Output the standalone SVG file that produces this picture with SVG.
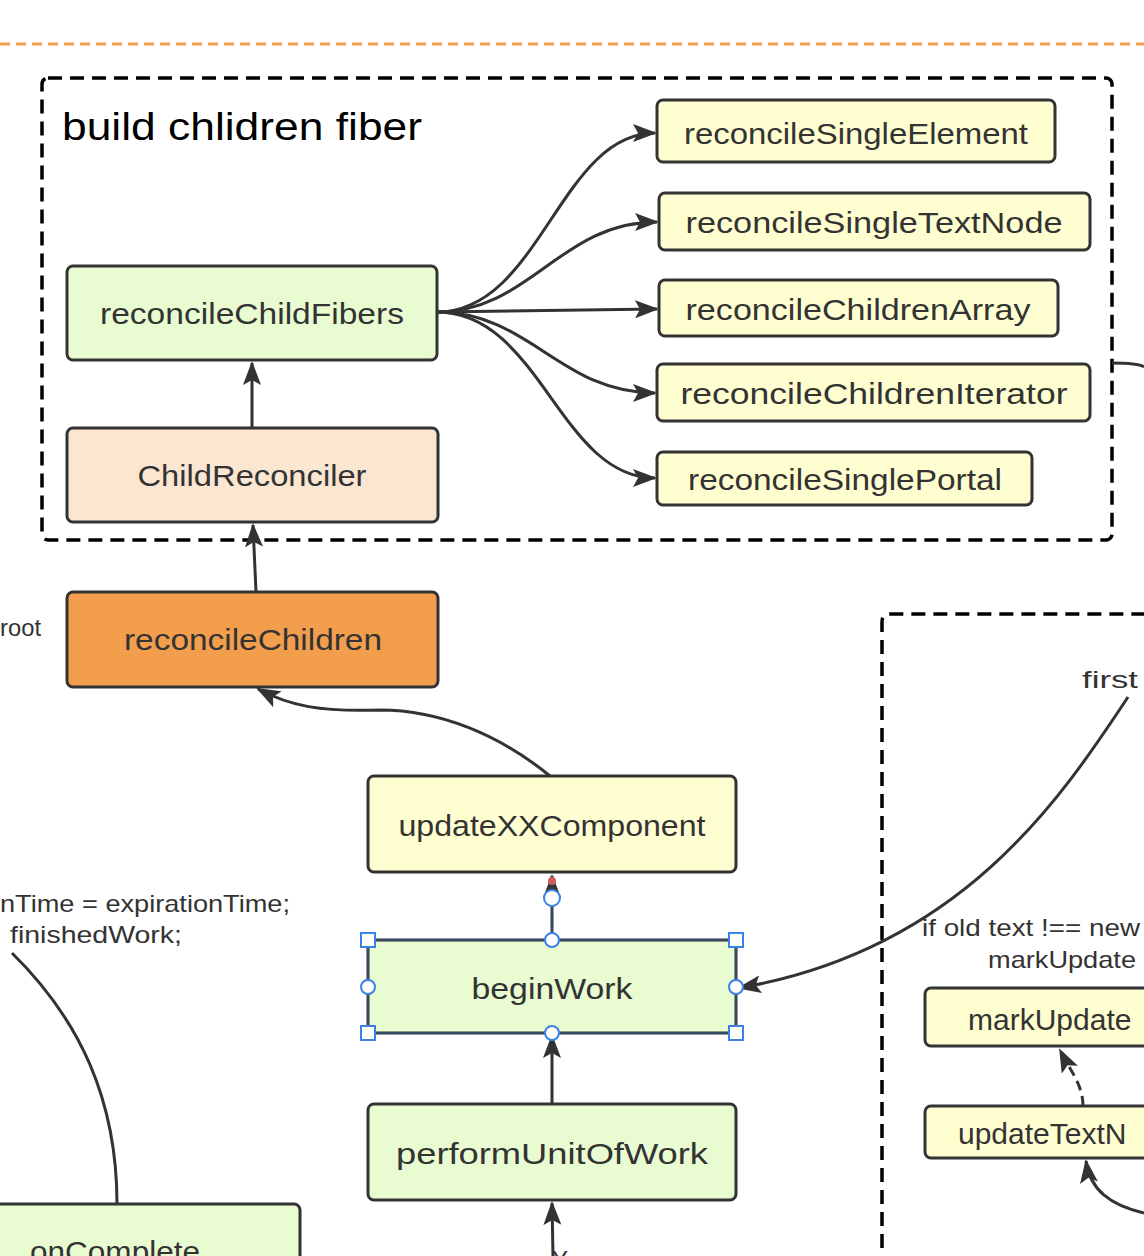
<svg xmlns="http://www.w3.org/2000/svg" width="1144" height="1256" viewBox="0 0 1144 1256">
<defs>
<style>
.box{stroke:#333;stroke-width:3}
.g{fill:#E9FBD1}.y{fill:#FFFED1}.p{fill:#FBE6D1}.o{fill:#F29E4C}
.t{font-family:"Liberation Sans","DejaVu Sans",sans-serif;font-size:30px;fill:#333;text-anchor:middle}
.s{font-family:"Liberation Sans","DejaVu Sans",sans-serif;font-size:24px;fill:#333}
.c{fill:none;stroke:#333;stroke-width:3}
.dash{fill:none;stroke:#000;stroke-width:3.5;stroke-dasharray:14 8}
.h{fill:#fff;stroke:#3C82E6;stroke-width:2}
</style>
<marker id="a" markerUnits="userSpaceOnUse" markerWidth="24" markerHeight="18" refX="22" refY="9" orient="auto">
<path d="M0,0 L24,9 L0,18 L5,9 Z" fill="#333"/>
</marker>
</defs>
<rect width="1144" height="1256" fill="#fff"/>
<line x1="0" y1="44" x2="1144" y2="44" stroke="#F2A04A" stroke-width="3" stroke-dasharray="10 6"/>
<rect x="42" y="78" width="1070" height="462" rx="6" class="dash"/>
<path d="M882,1270 L882,622 Q882,614 890,614 L1150,614" class="dash"/>
<text x="62" y="140" font-family="Liberation Sans, sans-serif" font-size="38" fill="#000" textLength="360" lengthAdjust="spacingAndGlyphs">build chlidren fiber</text>
<text class="s" x="0" y="636" textLength="41" lengthAdjust="spacingAndGlyphs">root</text>
<text class="s" x="0" y="912" textLength="290" lengthAdjust="spacingAndGlyphs">nTime = expirationTime;</text>
<text class="s" x="10" y="943" textLength="172" lengthAdjust="spacingAndGlyphs">finishedWork;</text>
<text class="s" x="1082" y="688" textLength="56" lengthAdjust="spacingAndGlyphs">first</text>
<text class="s" x="922" y="936" textLength="218" lengthAdjust="spacingAndGlyphs">if old text !== new</text>
<text class="s" x="988" y="968" textLength="148" lengthAdjust="spacingAndGlyphs">markUpdate</text>
<g id="connectors">
<path class="c" d="M437,312 C540,312 560,133 655,133" marker-end="url(#a)"/>
<path class="c" d="M437,312 C530,312 560,222 657,222" marker-end="url(#a)"/>
<path class="c" d="M437,312 L657,309" marker-end="url(#a)"/>
<path class="c" d="M437,312 C530,312 560,393 655,393" marker-end="url(#a)"/>
<path class="c" d="M437,312 C540,312 560,478 655,478" marker-end="url(#a)"/>
<path class="c" d="M252,428 L252,363" marker-end="url(#a)"/>
<path class="c" d="M256,592 L253,525" marker-end="url(#a)"/>
<path class="c" d="M550,776 C500,735 440,710 380,710 C320,712 290,706 258,689" marker-end="url(#a)"/>
<path class="c" d="M552,1104 L552,1036" marker-end="url(#a)"/>
<path class="c" d="M553,1256 L552,1203" marker-end="url(#a)"/>
<path class="c" d="M1128,697 C1060,800 960,950 739,988" marker-end="url(#a)"/>
<path class="c" d="M12,953 C80,1020 117,1100 117,1204"/>
<path class="c" d="M1112,363 C1128,363 1140,364 1144,367"/>
<path class="c" stroke-dasharray="10 6" d="M1083,1106 C1083,1085 1070,1070 1060,1050" marker-end="url(#a)"/>
<path class="c" d="M1144,1213 C1110,1205 1090,1190 1086,1161" marker-end="url(#a)"/>
<path class="c" d="M552,940 L552,876" marker-end="url(#a)"/>
<line x1="552" y1="940" x2="552" y2="900" stroke="#3C82E6" stroke-width="1" opacity="0.6"/>
<circle cx="552" cy="898" r="8" class="h"/>
<circle cx="552" cy="881" r="4" fill="#D05A5A"/>
</g>
<g id="n-rse"><rect class="box y" x="657" y="100" width="398" height="62" rx="6"/><text class="t" x="856" y="144" textLength="344" lengthAdjust="spacingAndGlyphs">reconcileSingleElement</text></g>
<g id="n-rst"><rect class="box y" x="659" y="193" width="431" height="57" rx="6"/><text class="t" x="874" y="233" textLength="377" lengthAdjust="spacingAndGlyphs">reconcileSingleTextNode</text></g>
<g id="n-rca"><rect class="box y" x="659" y="280" width="399" height="56" rx="6"/><text class="t" x="858" y="320" textLength="345" lengthAdjust="spacingAndGlyphs">reconcileChildrenArray</text></g>
<g id="n-rci"><rect class="box y" x="657" y="364" width="433" height="57" rx="6"/><text class="t" x="874" y="404" textLength="387" lengthAdjust="spacingAndGlyphs">reconcileChildrenIterator</text></g>
<g id="n-rsp"><rect class="box y" x="657" y="452" width="375" height="53" rx="6"/><text class="t" x="845" y="490" textLength="314" lengthAdjust="spacingAndGlyphs">reconcileSinglePortal</text></g>
<g id="n-rcf"><rect class="box g" x="67" y="266" width="370" height="94" rx="6"/><text class="t" x="252" y="324" textLength="304" lengthAdjust="spacingAndGlyphs">reconcileChildFibers</text></g>
<g id="n-cr"><rect class="box p" x="67" y="428" width="371" height="94" rx="6"/><text class="t" x="252" y="486" textLength="229" lengthAdjust="spacingAndGlyphs">ChildReconciler</text></g>
<g id="n-rc"><rect class="box o" x="67" y="592" width="371" height="95" rx="6"/><text class="t" x="253" y="650" textLength="258" lengthAdjust="spacingAndGlyphs">reconcileChildren</text></g>
<g id="n-uxx"><rect class="box y" x="368" y="776" width="368" height="96" rx="6"/><text class="t" x="552" y="836" textLength="307" lengthAdjust="spacingAndGlyphs">updateXXComponent</text></g>
<g id="n-bw"><rect class="box g" x="368" y="940" width="368" height="93"/><rect x="368" y="940" width="368" height="93" fill="none" stroke="#3C82E6" stroke-width="1" opacity="0.6"/><text class="t" x="552" y="999" textLength="161" lengthAdjust="spacingAndGlyphs">beginWork</text>
<rect class="h" x="361" y="933" width="14" height="14"/><rect class="h" x="729" y="933" width="14" height="14"/><rect class="h" x="361" y="1026" width="14" height="14"/><rect class="h" x="729" y="1026" width="14" height="14"/>
<circle class="h" cx="552" cy="940" r="7"/><circle class="h" cx="368" cy="987" r="7"/><circle class="h" cx="736" cy="987" r="7"/><circle class="h" cx="552" cy="1033" r="7"/></g>
<g id="n-puow"><rect class="box g" x="368" y="1104" width="368" height="96" rx="6"/><text class="t" x="552" y="1164" textLength="312" lengthAdjust="spacingAndGlyphs">performUnitOfWork</text></g>
<g id="n-oc"><rect class="box g" x="-10" y="1204" width="310" height="80" rx="6"/><text class="t" x="30" y="1262" style="text-anchor:start" textLength="170" lengthAdjust="spacingAndGlyphs">onComplete</text></g>
<g id="n-mu"><rect class="box y" x="925" y="988" width="240" height="58" rx="6"/><text class="t" x="968" y="1030" style="text-anchor:start">markUpdate</text></g>
<g id="n-utn"><rect class="box y" x="925" y="1106" width="240" height="52" rx="6"/><text class="t" x="958" y="1144" style="text-anchor:start">updateTextN</text></g>
<text class="s" x="552" y="1268">Y</text>
</svg>
